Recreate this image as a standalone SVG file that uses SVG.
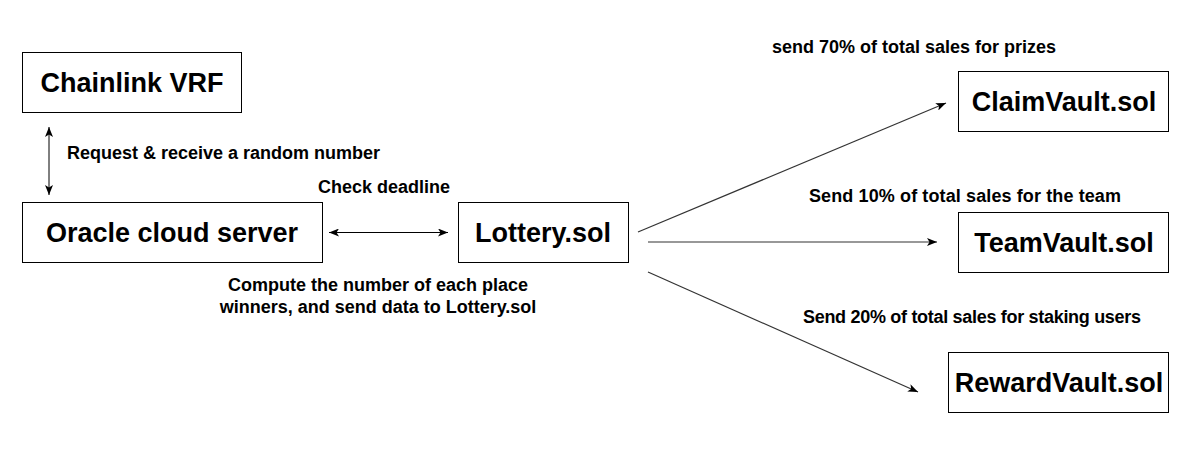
<svg xmlns="http://www.w3.org/2000/svg" width="1189" height="463" viewBox="0 0 1189 463">
<defs>
<style>
.box{fill:#fff;stroke:#000;stroke-width:1}
.title{font-family:"Liberation Sans",Arial,sans-serif;font-weight:bold;font-size:27px;fill:#000;text-anchor:middle}
.lbl{font-family:"Liberation Sans",Arial,sans-serif;font-weight:bold;font-size:18px;fill:#000}
.conn{fill:none;stroke:#000;stroke-width:1}
.conn2{fill:none;stroke:#333;stroke-width:1.2}
</style>
<marker id="ah" viewBox="0 0 10 8" refX="10" refY="4" markerWidth="10" markerHeight="8" markerUnits="userSpaceOnUse" orient="auto-start-reverse">
<path d="M0,0 L10,4 L0,8 L2.5,4 z" fill="#000"/>
</marker>
</defs>
<rect width="1189" height="463" fill="#fff"/>
<g id="connectors">
<line class="conn" x1="49" y1="127" x2="49" y2="195" marker-start="url(#ah)" marker-end="url(#ah)"/>
<line class="conn" x1="329" y1="232.5" x2="448" y2="232.5" marker-start="url(#ah)" marker-end="url(#ah)"/>
<line class="conn2" x1="638" y1="232" x2="946" y2="103" marker-end="url(#ah)"/>
<line class="conn2" x1="648" y1="242" x2="937" y2="242" marker-end="url(#ah)"/>
<line class="conn2" x1="648" y1="272" x2="918" y2="392" marker-end="url(#ah)"/>
<text class="lbl" x="67" y="159">Request &amp; receive a random number</text>
<text class="lbl" x="318" y="192.5">Check deadline</text>
<text class="lbl" x="378" y="291" text-anchor="middle">Compute the number of each place</text>
<text class="lbl" x="378" y="313" text-anchor="middle">winners, and send data to Lottery.sol</text>
<text class="lbl" x="772" y="53">send 70% of total sales for prizes</text>
<text class="lbl" x="809" y="202" textLength="312">Send 10% of total sales for the team</text>
<text class="lbl" x="803" y="323" textLength="338">Send 20% of total sales for staking users</text>
</g>
<g id="chainlink">
<rect class="box" x="22.5" y="52.5" width="219" height="60"/>
<text class="title" x="132" y="91.5">Chainlink VRF</text>
</g>
<g id="oracle">
<rect class="box" x="22.5" y="202.5" width="300" height="60"/>
<text class="title" x="172" y="241.5">Oracle cloud server</text>
</g>
<g id="lottery">
<rect class="box" x="458.5" y="202.5" width="170" height="60"/>
<text class="title" x="543" y="241.5">Lottery.sol</text>
</g>
<g id="claimvault">
<rect class="box" x="958.5" y="71.5" width="210" height="60"/>
<text class="title" x="1064" y="110.5">ClaimVault.sol</text>
</g>
<g id="teamvault">
<rect class="box" x="958.5" y="212.5" width="210" height="60"/>
<text class="title" x="1064" y="251.5">TeamVault.sol</text>
</g>
<g id="rewardvault">
<rect class="box" x="948.5" y="352.5" width="220" height="60"/>
<text class="title" x="1059" y="391.5">RewardVault.sol</text>
</g>
</svg>
